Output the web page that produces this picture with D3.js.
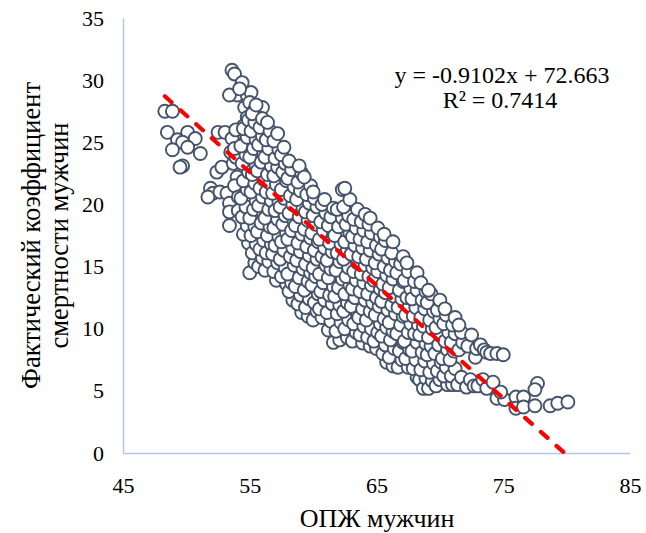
<!DOCTYPE html>
<html><head><meta charset="utf-8">
<script src="https://cdn.jsdelivr.net/npm/d3@7"></script>
<style>body{margin:0;background:#fff}svg{display:block}
text{font-family:"Liberation Serif","Times New Roman",serif;}</style>
</head><body>
<svg id="c" width="646" height="533"></svg>
<script>
// X axis ticks and Y axis ticks
const xTicks = [45, 55, 65, 75, 85];
const yTicks = [0, 5, 10, 15, 20, 25, 30, 35];
const xTitle = "ОПЖ мужчин";
const yTitle = ["Фактический коэффициент", "смертности мужчин"];
const equationText = "y = -0.9102x + 72.663";
const r2Text = "R² = 0.7414";
const slope = -0.9102, intercept = 72.663;

// Points: [ОПЖ мужчин, коэффициент смертности]
const leftGroup = [
 [48.3,27.5],[48.9,27.5],[48.5,25.8],[49.3,25.2],[50.1,25.8],[49.7,25.0],[50.7,25.3],[50.1,24.6],
 [48.9,24.4],[51.1,24.1],[49.7,23.1],[49.5,23.0],[52.5,25.8],[53.05,25.8],
 [51.9,21.3],[52.1,20.9],[51.7,20.6],[52.65,21.0],[53.2,20.9],[53.4,20.1],[53.4,19.4],[54.1,19.5],
 [53.4,18.3],[54.6,19.1],[54.0,22.2],[52.4,22.6],[52.8,23.0],
 [53.7,23.3],[53.5,24.2],[54.0,24.8],[53.8,21.5],[53.6,25.3],[53.9,23.8],[54.1,20.6],[53.8,24.5]
];
const topGroup = [
 [53.6,30.8],[53.8,30.5],[54.4,29.8],[54.0,28.8],[53.4,28.8],[54.8,28.8],[54.6,27.8],[55.1,29.0],
 [54.2,29.3],[55.0,28.2],[55.3,27.5],[54.8,27.0],[55.2,26.5],[54.5,26.3],[53.9,26.0],[56.0,27.8],[55.8,26.95]
];
const mainGroup = [
 [54.9,16.9],[54.5,17.6],[54.8,18.3],[54.4,19.0],[54.7,19.8],[54.3,20.5],[54.8,21.2],[54.5,21.9],[54.9,22.6],[54.4,23.3],[54.7,24.0],[54.3,24.7],[54.8,25.4],[54.5,26.1],[54.9,26.8],
 [55.0,14.5],[55.4,15.3],[55.2,16.1],[55.5,16.8],[55.1,17.5],[55.4,18.2],[55.0,18.9],[55.3,19.6],[55.5,20.3],[55.1,21.0],[55.4,21.7],[55.2,22.4],[55.5,23.1],[55.0,23.8],[55.3,24.5],[55.5,25.2],[55.1,25.9],[55.4,26.6],[55.2,27.3],[55.5,28.0],
 [55.7,15.0],[56.0,15.7],[55.8,16.4],[56.1,17.1],[55.6,17.8],[55.9,18.5],[56.1,19.2],[55.7,19.9],[56.0,20.6],[55.8,21.3],[56.1,22.0],[55.6,22.7],[55.9,23.4],[56.1,24.1],[55.7,24.8],[56.0,25.5],[55.8,26.2],[56.0,26.9],
 [56.2,14.7],[56.5,15.4],[56.3,16.1],[56.7,16.8],[56.4,17.5],[56.6,18.2],[56.2,18.9],[56.5,19.6],[56.7,20.3],[56.3,21.0],[56.6,21.7],[56.4,22.4],[56.7,23.1],[56.2,23.8],[56.5,24.5],[56.3,25.2],[56.6,25.9],[56.4,26.6],
 [57.1,13.9],[56.9,14.6],[57.2,15.3],[56.8,16.0],[57.0,16.7],[57.3,17.4],[56.9,18.1],[57.2,18.8],[57.0,19.5],[57.3,20.2],[56.8,20.9],[57.1,21.6],[56.9,22.3],[57.2,23.0],[57.0,23.7],[57.3,24.4],[56.9,25.1],[57.2,25.7],
 [57.9,13.6],[57.5,14.2],[57.8,14.9],[57.4,15.6],[57.7,16.3],[57.5,17.0],[57.9,17.7],[57.6,18.4],[57.8,19.1],[57.4,19.8],[57.7,20.5],[57.5,21.2],[57.9,21.9],[57.6,22.6],[57.8,23.3],[57.5,24.0],[57.7,24.6],
 [58.4,12.3],[58.1,13.0],[58.3,13.7],[58.0,14.4],[58.5,15.1],[58.2,15.8],[58.4,16.5],[58.0,17.2],[58.3,17.9],[58.5,18.6],[58.1,19.3],[58.4,20.0],[58.2,20.7],[58.5,21.4],[58.0,22.1],[58.3,22.8],[58.1,23.5],
 [59.1,11.3],[58.8,12.0],[59.0,12.7],[58.6,13.4],[58.9,14.1],[59.2,14.8],[58.7,15.5],[59.0,16.2],[58.8,16.9],[59.1,17.6],[58.6,18.3],[58.9,19.0],[59.2,19.7],[58.7,20.4],[59.0,21.1],[58.8,21.8],[59.1,22.5],[58.9,23.1],
 [59.6,11.0],[59.4,11.7],[59.7,12.4],[59.3,13.1],[59.6,13.8],[59.8,14.5],[59.4,15.2],[59.7,15.9],[59.5,16.6],[59.8,17.3],[59.3,18.0],[59.6,18.7],[59.4,19.4],[59.7,20.1],[59.5,20.8],[59.8,21.5],[59.3,22.2],
 [60.0,10.7],[60.3,11.4],[60.1,12.1],[60.4,12.8],[59.9,13.5],[60.2,14.2],[60.0,14.9],[60.3,15.6],[60.1,16.3],[60.4,17.0],[59.9,17.7],[60.2,18.4],[60.0,19.1],[60.3,19.8],[60.1,20.5],[60.0,21.0],
 [60.7,10.9],[60.5,11.6],[60.9,12.3],[60.6,13.0],[60.8,13.7],[60.5,14.4],[61.0,15.1],[60.7,15.8],[60.9,16.5],[60.5,17.2],[60.8,17.9],[60.6,18.6],[61.0,19.3],[60.7,20.0],[60.9,20.4],
 [61.2,9.9],[61.6,8.9],[61.4,10.6],[61.1,11.3],[61.5,12.0],[61.3,12.7],[61.6,13.4],[61.2,14.1],[61.4,14.8],[61.1,15.5],[61.5,16.2],[61.3,16.9],[61.6,17.6],[61.2,18.3],[61.4,19.0],[61.6,19.7],
 [62.1,9.1],[61.8,9.8],[62.2,10.5],[61.9,11.2],[62.1,11.9],[61.7,12.6],[62.0,13.3],[62.3,14.0],[61.8,14.7],[62.1,15.4],[61.9,16.1],[62.2,16.8],[61.7,17.5],[62.0,18.2],[62.3,18.9],[61.9,19.6],[62.3,21.2],
 [62.7,9.3],[62.5,10.0],[62.8,10.7],[62.4,11.4],[62.7,12.1],[62.5,12.8],[62.9,13.5],[62.6,14.2],[62.8,14.9],[62.4,15.6],[62.7,16.3],[62.5,17.0],[62.9,17.7],[62.6,18.4],[62.8,19.1],[62.4,19.8],[62.9,20.4],[62.5,21.3],
 [63.1,9.0],[63.4,9.7],[63.2,10.4],[63.5,11.1],[63.0,11.8],[63.3,12.5],[63.1,13.2],[63.4,13.9],[63.2,14.6],[63.5,15.3],[63.0,16.0],[63.3,16.7],[63.1,17.4],[63.4,18.1],[63.2,18.8],[63.5,19.6],
 [63.9,8.85],[63.7,9.5],[64.0,10.2],[63.6,10.9],[63.9,11.6],[64.1,12.3],[63.7,13.0],[64.0,13.7],[63.8,14.4],[64.1,15.1],[63.6,15.8],[63.9,16.5],[63.7,17.2],[64.0,17.9],[63.8,18.6],[64.1,19.2],
 [64.5,8.6],[64.3,9.3],[64.6,10.0],[64.2,10.7],[64.5,11.4],[64.7,12.1],[64.3,12.8],[64.6,13.5],[64.4,14.2],[64.7,14.9],[64.2,15.6],[64.5,16.3],[64.3,17.0],[64.6,17.7],[64.4,18.4],[64.5,18.9],
 [65.0,8.4],[64.8,9.0],[65.1,9.7],[65.3,10.4],[64.9,11.1],[65.2,11.8],[65.0,12.5],[65.3,13.2],[64.8,13.9],[65.1,14.6],[64.9,15.3],[65.2,16.0],[65.0,16.7],[65.3,17.4],[65.1,18.1],
 [65.8,7.3],[65.5,8.0],[65.7,8.7],[65.4,9.4],[65.8,10.1],[65.6,10.8],[65.9,11.5],[65.4,12.2],[65.7,12.9],[65.5,13.6],[65.8,14.3],[65.6,15.0],[65.9,15.7],[65.4,16.4],[65.7,17.1],[65.6,17.6],
 [66.3,7.0],[66.0,7.7],[66.4,8.4],[66.1,9.1],[66.3,9.8],[66.0,10.5],[66.5,11.2],[66.2,11.9],[66.4,12.6],[66.0,13.3],[66.3,14.0],[66.1,14.7],[66.5,15.4],[66.2,16.1],[66.3,17.0],
 [66.7,6.9],[67.0,7.5],[66.8,8.2],[67.1,8.9],[66.6,9.6],[66.9,10.3],[67.1,11.0],[66.7,11.7],[67.0,12.4],[66.8,13.1],[67.1,13.8],[66.6,14.5],[66.9,15.2],[67.1,15.8],
 [67.5,6.9],[67.3,7.6],[67.6,8.3],[67.2,9.0],[67.5,9.7],[67.7,10.4],[67.3,11.1],[67.6,11.8],[67.4,12.5],[67.7,13.2],[67.2,13.9],[67.5,14.6],[67.4,15.3],
 [68.2,6.1],[67.9,6.8],[68.1,7.5],[67.8,8.2],[68.2,8.9],[68.0,9.6],[68.3,10.3],[67.9,11.0],[68.1,11.7],[67.8,12.4],[68.2,13.1],[68.0,13.8],[68.2,14.5],
 [68.4,5.9],[68.7,5.2],[68.9,6.0],[68.5,6.7],[68.8,7.4],[68.6,8.1],[68.9,8.8],[68.4,9.5],[68.7,10.2],[68.5,10.9],[68.8,11.6],[68.6,12.3],[68.9,13.0],[68.5,13.7],
 [69.1,5.2],[69.4,5.8],[69.2,6.5],[69.5,7.2],[69.0,7.9],[69.3,8.6],[69.1,9.3],[69.4,10.0],[69.2,10.7],[69.5,11.4],[69.0,12.1],[69.3,12.8],[69.1,13.1],
 [69.7,5.4],[70.0,5.9],[69.8,6.6],[70.1,7.3],[69.6,8.0],[69.9,8.7],[70.1,9.4],[69.7,10.1],[70.0,10.8],[69.8,11.5],[70.0,12.3],
 [70.6,5.5],[70.3,6.2],[70.5,6.9],[70.2,7.6],[70.6,8.3],[70.4,9.0],[70.7,9.7],[70.3,10.4],[70.5,11.1],[70.4,11.6],
 [71.0,5.5],[70.9,6.2],[71.2,6.8],[70.8,7.5],[71.1,8.2],[70.9,8.9],[71.2,9.6],[71.0,10.3],[71.2,10.9]
];
const rightTail = [
 [71.4,5.5],[71.7,6.1],[71.5,8.3],[71.8,8.9],[71.7,9.7],[71.5,10.3],
 [72.1,5.3],[72.4,5.9],[72.7,5.4],[72.2,8.6],[72.5,9.5],[72.8,7.7],[72.9,8.4],
 [73.2,8.7],[73.5,8.3],[73.7,8.1],[74.0,8.0],[73.0,5.4],[73.4,5.9],[73.7,5.2],[74.2,5.7],
 [74.5,8.0],[75.0,7.9],[74.5,4.4],[75.1,4.3],[74.8,4.9],
 [76.0,4.5],[76.0,3.6],[76.6,4.5],[76.6,3.7],[77.7,5.6],[77.5,5.1],[77.5,3.8],[78.7,3.8],[79.3,4.0],[80.1,4.1]
];
const points = [...leftGroup, ...topGroup, ...mainGroup, ...rightTail];

const svg = d3.select("#c");
const x = d3.scaleLinear().domain([45, 85]).range([123, 630]);
const y = d3.scaleLinear().domain([0, 35]).range([453, 18]);
const axisColor = "#B4C7E7";
const serif = "Liberation Serif, Times New Roman, serif";

// axes
const xAxis = svg.append("g").attr("transform", "translate(0,453)")
  .call(d3.axisBottom(x).tickValues(xTicks).tickSize(0).tickPadding(24).tickFormat(d3.format("d")));
const yAxis = svg.append("g").attr("transform", "translate(123,0)")
  .call(d3.axisLeft(y).tickValues(yTicks).tickSize(0).tickPadding(19).tickFormat(d3.format("d")));
[xAxis, yAxis].forEach(a => {
  a.attr("font-family", null).attr("font-size", null);
  a.select(".domain").attr("stroke", axisColor).attr("stroke-width", 1.5);
  a.selectAll("text").style("font-family", serif).style("font-size", "22px").attr("fill", "#000");
});

// points
svg.append("g").selectAll("circle").data(points).join("circle")
  .attr("cx", d => x(d[0])).attr("cy", d => y(d[1])).attr("r", 6.5)
  .attr("fill", "#fff").attr("stroke", "#44546A").attr("stroke-width", 1.9);

// trend line
const xMin = d3.min(points, d => d[0]);
const xEnd = -intercept / slope;
svg.append("line")
  .attr("x1", x(xMin)).attr("y1", y(slope * xMin + intercept))
  .attr("x2", x(xEnd)).attr("y2", y(slope * xEnd + intercept))
  .attr("stroke", "#FF0000").attr("stroke-width", 4.2)
  .attr("stroke-dasharray", "9,12").attr("stroke-linecap", "round");

// equation
svg.append("text").attr("x", 502).attr("y", 83).attr("text-anchor", "middle")
  .style("font-family", serif).style("font-size", "24px").text(equationText);
svg.append("text").attr("x", 500).attr("y", 108).attr("text-anchor", "middle")
  .style("font-family", serif).style("font-size", "24px").text(r2Text);

// titles
svg.append("text").attr("x", 377).attr("y", 527).attr("text-anchor", "middle")
  .style("font-family", serif).style("font-size", "26px").text(xTitle);
const yt = svg.append("text").attr("transform", "translate(0,235.5) rotate(-90)")
  .attr("text-anchor", "middle").style("font-family", serif).style("font-size", "26.5px");
yt.append("tspan").attr("x", 0).attr("y", 40).text(yTitle[0]);
yt.append("tspan").attr("x", 0).attr("y", 68).text(yTitle[1]);
</script>
</body></html>
